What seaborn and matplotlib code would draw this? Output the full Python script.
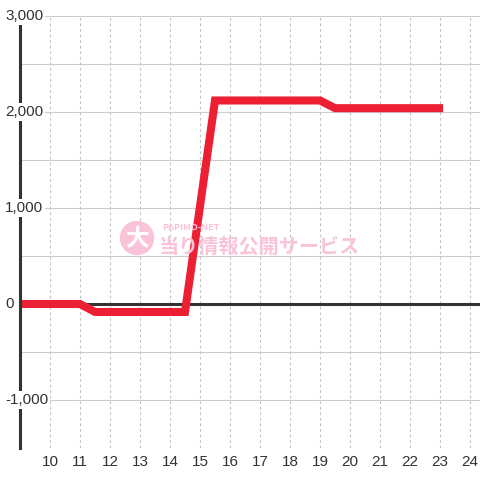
import matplotlib
matplotlib.use("Agg")
import matplotlib.pyplot as plt
import matplotlib.patches as mpatches
import matplotlib.transforms as mtransforms
import pandas as pd
import seaborn as sns

# data
hours = [9.0, 11.0, 11.5, 14.5, 15.5, 19.0, 19.5, 23.1]
values = [0, 0, -83, -83, 2120, 2120, 2040, 2040]
x_ticks = list(range(10, 25))
y_ticks = [-1000, 0, 1000, 2000, 3000]
y_grid = [-1500, -1000, -500, 500, 1000, 1500, 2000, 2500, 3000]

df = pd.DataFrame({"hour": hours, "value": values})

sns.set_style("white")
plt.rcParams["font.family"] = ["Liberation Sans", "DejaVu Sans"]

fig = plt.figure(figsize=(4.8, 4.8), dpi=100)
fig.patch.set_facecolor("white")
ax = fig.add_axes([20 / 480, 32 / 480, 460 / 480, 432 / 480])
ax.set_facecolor("white")

ax.set_xlim(9.0, 24 + 1 / 3)
ax.set_ylim(-1500, 3000)

# grid
for v in y_grid:
    ax.axhline(v, color="#cccccc", lw=0.8, zorder=1)
for t in x_ticks:
    ax.axvline(t, color="#c4c4c4", lw=0.8, ls=(0, (2.5, 2.5)), zorder=1)
ax.axhline(0, color="#333333", lw=2.2, zorder=2)

# watermark
pink = "#f9c3da"
circ = mpatches.Circle((137 / 480, 1 - 238 / 480), 16.5 / 480,
                       transform=fig.transFigure, color=pink, zorder=2)
ax.add_patch(circ)
wm_font = ["Noto Sans CJK JP", "DejaVu Sans"]
fig.text(137 / 480, 1 - 239 / 480, "大", color="white", fontsize=17,
         fontweight="bold", family=wm_font, ha="center", va="center", zorder=3)
fig.text(162 / 480, 1 - 227 / 480, "PAPIMO-NET", color=pink, fontsize=6.5,
         fontweight="bold", family=wm_font, ha="left", va="center")
fig.text(159 / 480, 1 - 246 / 480, "当り情報公開サービス", color=pink, fontsize=14.5,
         fontweight="bold", family=wm_font, ha="left", va="center")

sns.lineplot(data=df, x="hour", y="value", ax=ax, color="#ed1f33",
             lw=5.8, zorder=5, solid_capstyle="butt", solid_joinstyle="miter")

for s in ["top", "right", "bottom"]:
    ax.spines[s].set_visible(False)
ax.spines["left"].set_color("#333333")
ax.spines["left"].set_linewidth(2.2)
ax.spines["left"].set_zorder(6)

ax.set_xticks(x_ticks)
ax.set_xticklabels([str(t) for t in x_ticks], fontsize=11, color="#333333")
ax.tick_params(axis="x", length=0, pad=5)
ax.set_yticks([])
ax.set_xlabel("")
ax.set_ylabel("")

# y labels sit over the spine on a white box
label_tr = mtransforms.blended_transform_factory(fig.transFigure, ax.transData)
for v in y_ticks:
    ax.text(5 / 480, v, f"{v:,}", transform=label_tr, clip_on=False,
            fontsize=11, color="#333333", ha="left", va="center", zorder=7,
            bbox=dict(boxstyle="square,pad=0.15", fc="white", ec="none"))

fig.savefig("out.png", dpi=100)
